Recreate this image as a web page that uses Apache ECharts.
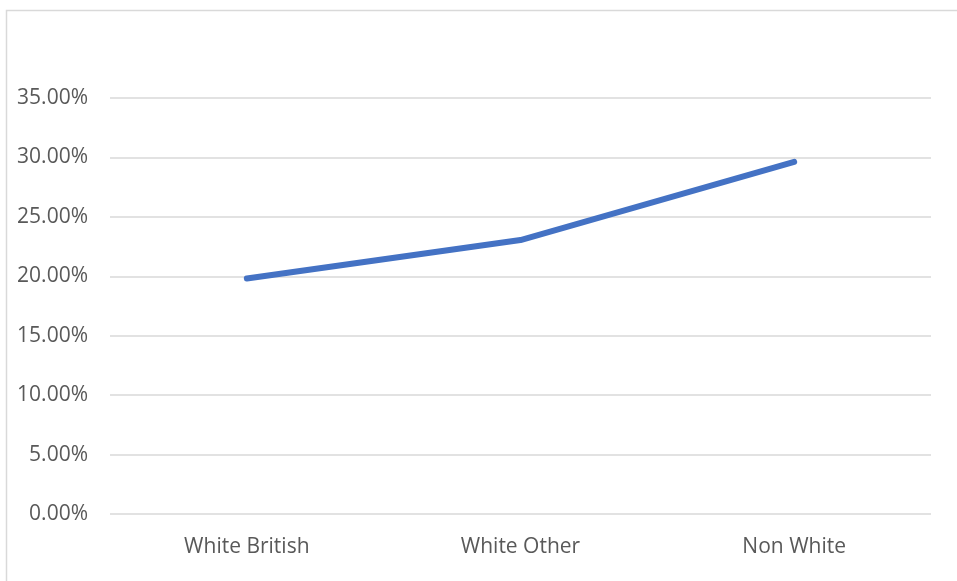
<!DOCTYPE html>
<html>
<head>
<meta charset="utf-8">
<script src="https://cdn.jsdelivr.net/npm/echarts@6/dist/echarts.min.js"></script>
<style>
html,body{margin:0;padding:0;background:#fff;}
#c{width:957px;height:581px;}
</style>
</head>
<body>
<div id="c"></div>
<script>
const categories = ['White British', 'White Other', 'Non White'];
const values = [0.1981, 0.2305, 0.2963];
const yTicks = [0, 0.05, 0.10, 0.15, 0.20, 0.25, 0.30, 0.35];

const chart = echarts.init(document.getElementById('c'), null, {renderer: 'canvas'});
chart.setOption({
  animation: false,
  backgroundColor: '#ffffff',
  graphic: [{
    type: 'rect',
    shape: {x: 6.5, y: 10.5, width: 1000, height: 1000},
    style: {fill: 'none', stroke: '#d9d9d9', lineWidth: 1.5},
    silent: true
  }],
  grid: {left: 110, right: 26, top: 98, bottom: 67, containLabel: false},
  xAxis: {
    type: 'category',
    data: categories,
    boundaryGap: true,
    axisLine: {show: false},
    axisTick: {show: false},
    axisLabel: {
      color: '#595959',
      fontFamily: 'Open Sans',
      fontSize: 21,
      margin: 23
    },
    splitLine: {show: false}
  },
  yAxis: {
    type: 'value',
    min: yTicks[0],
    max: yTicks[yTicks.length - 1],
    interval: 0.05,
    axisLine: {show: false},
    axisTick: {show: false},
    axisLabel: {
      color: '#595959',
      fontFamily: 'Open Sans',
      fontSize: 21,
      margin: 22,
      padding: [5, 0, 0, 0],
      formatter: v => (v * 100).toFixed(2) + '%'
    },
    splitLine: {lineStyle: {color: '#d9d9d9', width: 1.5}}
  },
  series: [{
    type: 'line',
    data: values,
    showSymbol: false,
    symbol: 'none',
    lineStyle: {color: '#4472C4', width: 6, cap: 'round', join: 'round'},
    itemStyle: {color: '#4472C4'}
  }]
});
</script>
</body>
</html>
